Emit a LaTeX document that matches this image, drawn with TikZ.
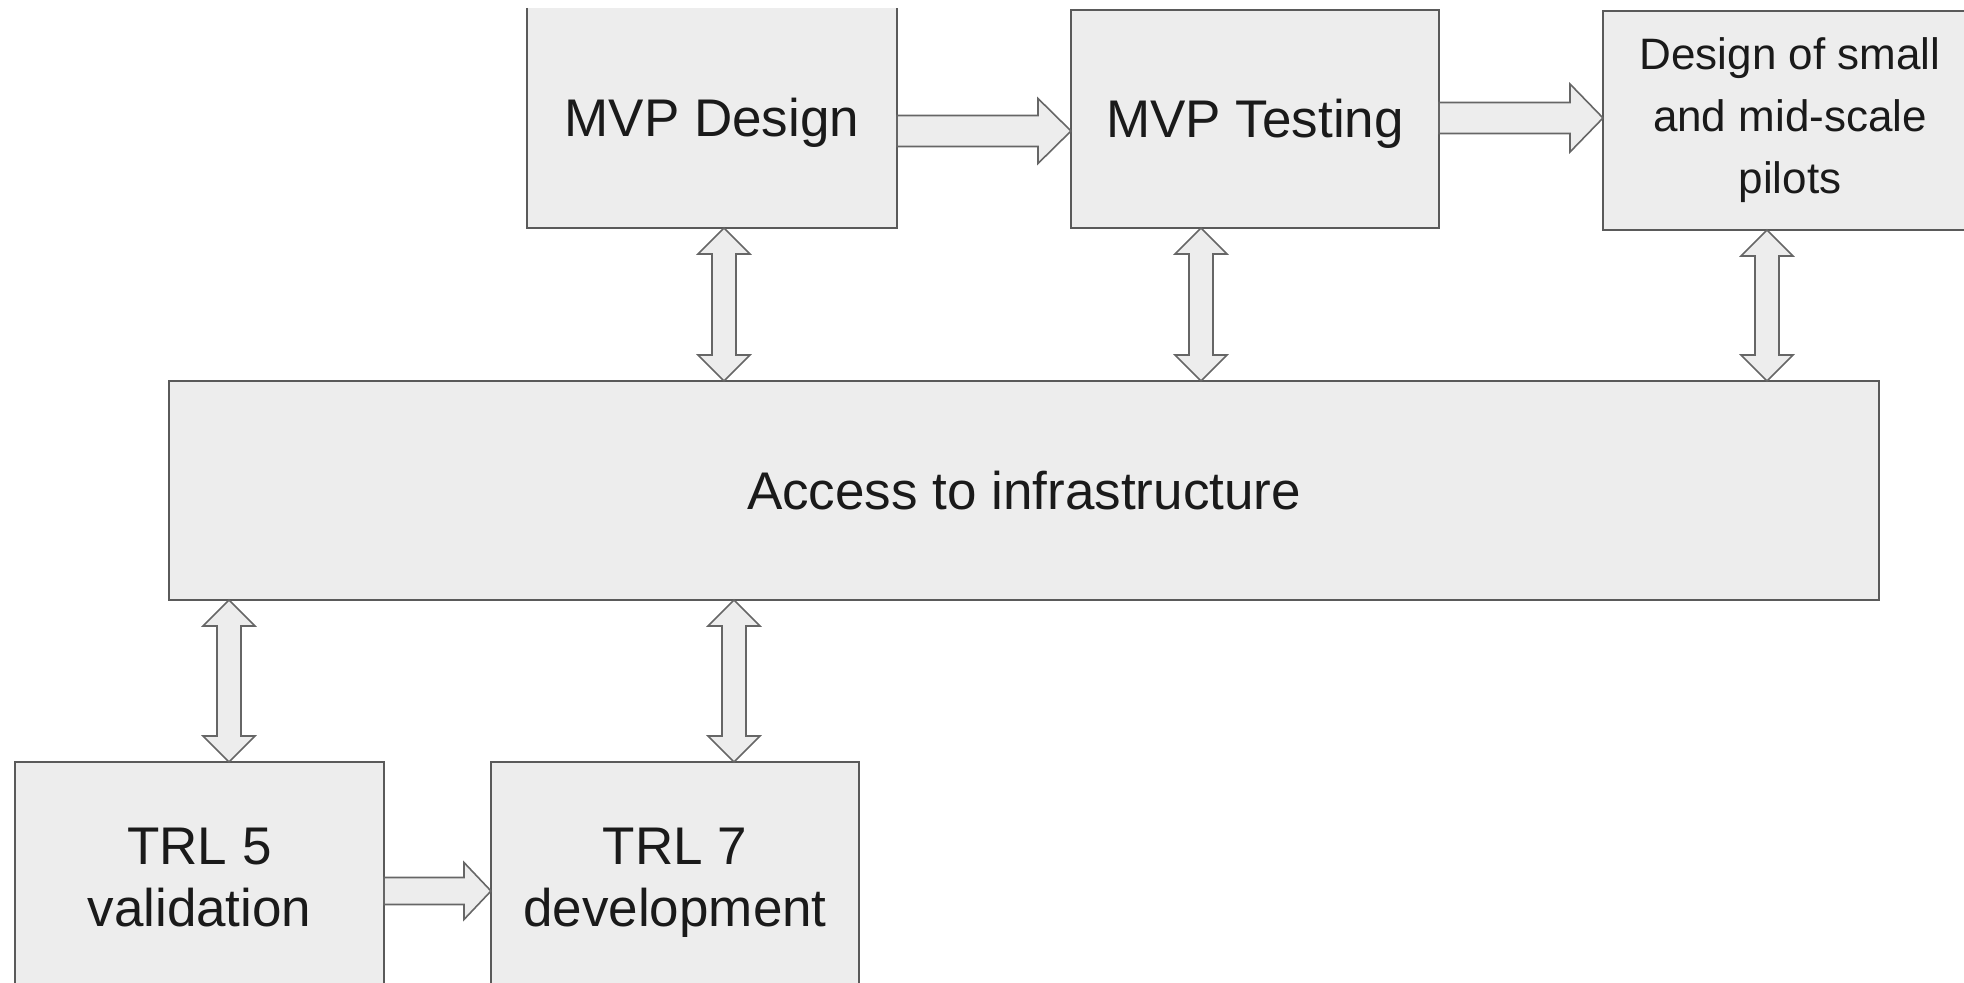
\documentclass[tikz,border=0pt]{standalone}
\usepackage{fontspec}
\setmainfont{Liberation Sans}
\usetikzlibrary{calc}
\definecolor{boxfill}{HTML}{EDEDED}
\definecolor{boxline}{HTML}{5A5A5A}
\definecolor{arrline}{HTML}{666666}
\definecolor{txt}{HTML}{1A1A1A}
\tikzset{
  procbox/.style={rectangle, fill=boxfill, draw=boxline, line width=1.2pt, outer sep=0pt, inner sep=0pt, align=center, text=txt, font=\fontsize{26.5}{30}\selectfont},
  oneline/.style={text height=19pt, text depth=0pt},
  blockarrow/.style={fill=boxfill, draw=arrline, line width=0.8pt, line join=miter},
}
\newcommand{\harrowbox}[6]{%
  \path[blockarrow] let \p3=(0,#3), \p1=(#1.east), \p2=(#2.west) in
    (\x1,\y3+#4) -- (\x2-#6,\y3+#4) -- (\x2-#6,\y3+#5) -- (\x2,\y3) -- (\x2-#6,\y3-#5) -- (\x2-#6,\y3-#4) -- (\x1,\y3-#4) -- cycle;
}
\newcommand{\vdarrowbox}[3]{%
  \path[blockarrow] let \p3=(#1,0), \p1=(#2.south), \p2=(#3.north) in
    (\x3,\y1) -- (\x3+13pt,\y1-13pt) -- (\x3+6pt,\y1-13pt) -- (\x3+6pt,\y2+13pt) -- (\x3+13pt,\y2+13pt) -- (\x3,\y2) -- (\x3-13pt,\y2+13pt) -- (\x3-6pt,\y2+13pt) -- (\x3-6pt,\y1-13pt) -- (\x3-13pt,\y1-13pt) -- cycle;
}
\begin{document}
\begin{tikzpicture}[x=0.5pt,y=-0.5pt]
\useasboundingbox (0,0) rectangle (1964,983);
\clip (0,0) rectangle (1964,983);
% top row
\node[procbox, oneline, draw=none, minimum width=185pt, minimum height=110pt] (mvpd) at (712,118) {MVP Design};
\draw[boxline, line width=1.2pt] (mvpd.north west) -- (mvpd.south west) -- (mvpd.south east) -- (mvpd.north east);
\node[procbox, oneline, minimum width=184pt, minimum height=109pt] (mvpt) at (1255,119) {MVP Testing};
\node[procbox, minimum width=187pt, minimum height=109.5pt, font=\fontsize{22}{31}\selectfont] (pilots) at (1790,120.5) {Design of small\\and mid-scale\\pilots};
% middle
\node[procbox, oneline, minimum width=855pt, minimum height=109.5pt] (access) at (1024,490.5) {Access to infrastructure};
% bottom row
\node[procbox, minimum width=184.5pt, minimum height=121pt, font=\fontsize{26.5}{31}\selectfont] (trl5) at (199.5,883) {TRL 5\\validation\vphantom{p}};
\node[procbox, minimum width=184pt, minimum height=121pt, font=\fontsize{26.5}{31}\selectfont] (trl7) at (675,883) {TRL 7\\development};
% horizontal arrows
\harrowbox{mvpd}{mvpt}{131}{7.75pt}{16.25pt}{16.5pt}
\harrowbox{mvpt}{pilots}{118}{7.75pt}{17pt}{16.5pt}
\harrowbox{trl5}{trl7}{891}{6.75pt}{14.25pt}{13.5pt}
% vertical double arrows
\vdarrowbox{724}{mvpd}{access}
\vdarrowbox{1201}{mvpt}{access}
\vdarrowbox{1767}{pilots}{access}
\vdarrowbox{229}{access}{trl5}
\vdarrowbox{734}{access}{trl7}
\end{tikzpicture}
\end{document}
